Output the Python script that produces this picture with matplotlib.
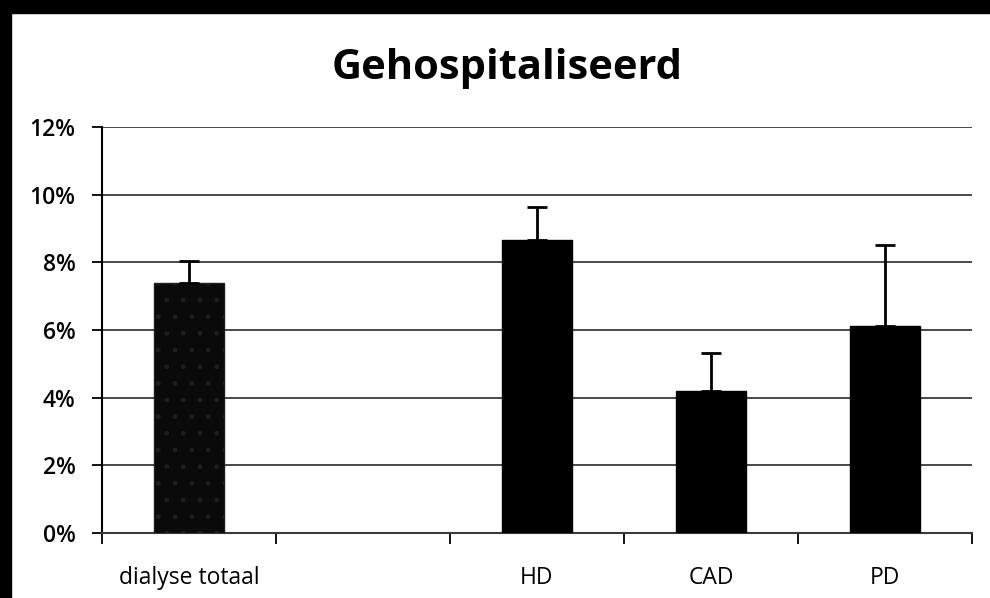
#!/usr/bin/env python3

"""
bar chart: gehospitaliseerd per dialyse type
"""

import matplotlib
matplotlib.use("Agg")
import matplotlib.pyplot as plt
import numpy as np

categories = ["dialyse totaal", "", "HD", "CAD", "PD"]
pct = [7.39, np.nan, 8.66, 4.20, 6.12]      # bar height in %
err_up = [0.65, np.nan, 0.98, 1.12, 2.39]   # upper error in %
yticks = [0, 2, 4, 6, 8, 10, 12]

plt.rcParams["font.family"] = ["Open Sans", "DejaVu Sans"]

fig = plt.figure(figsize=(9.9, 5.98), dpi=100)
ax = fig.add_axes([102/990, 1-533/598, 870/990, 406/598])

x = np.arange(len(categories))
vals = np.array(pct)
errs = np.array(err_up)
keep = ~np.isnan(vals)

bars = ax.bar(x[keep], vals[keep], width=0.40, color="black",
              edgecolor="black", linewidth=1, zorder=3)
# first bar is a bit "grainy" in the scan
bars[0].set_facecolor("#0a0a0a")
bars[0].set_hatch(".")
bars[0].set_edgecolor("#1e1e1e")

ax.errorbar(x[keep], vals[keep],
            yerr=[np.zeros(keep.sum()), errs[keep]],
            fmt="none", ecolor="black", elinewidth=2, capsize=7.5,
            capthick=2, zorder=4)

ax.set_xlim(-0.5, len(categories) - 0.5)
ax.set_ylim(0, 12)
ax.set_yticks(yticks)
ax.set_yticklabels([f"{v}%" for v in yticks], fontsize=16.5, fontweight="semibold")
ax.yaxis.grid(True, color="#3a3a3a", linewidth=1.3, zorder=0)
ax.set_axisbelow(True)

# boundary ticks, labels at slot centres
ax.set_xticks(np.arange(len(categories) + 1) - 0.5)
ax.set_xticklabels([])
ax.set_xticks(x, minor=True)
ax.set_xticklabels(categories, minor=True, fontsize=16.5)
ax.tick_params(axis="x", which="major", length=8, width=1.3, direction="out")
ax.tick_params(axis="x", which="minor", length=0, pad=24)
ax.tick_params(axis="y", length=7, width=1.3, pad=12)

for s in ["top", "right"]:
    ax.spines[s].set_visible(False)
ax.spines["left"].set_linewidth(1.5)
ax.spines["bottom"].set_linewidth(1.5)
ax.spines["bottom"].set_color("#3a3a3a")

fig.text(507/990, 1-79/598, "Gehospitaliseerd", ha="center", va="baseline",
         fontsize=30, fontweight="bold")

# black frame from the scan (top and left edges)
fig.patches.append(plt.Rectangle((0, 1-13/598), 1, 13/598, color="black",
                                 transform=fig.transFigure, figure=fig))
fig.patches.append(plt.Rectangle((0, 0), 11/990, 1, color="black",
                                 transform=fig.transFigure, figure=fig))

fig.savefig("out.png", dpi=100)
plt.close(fig)
